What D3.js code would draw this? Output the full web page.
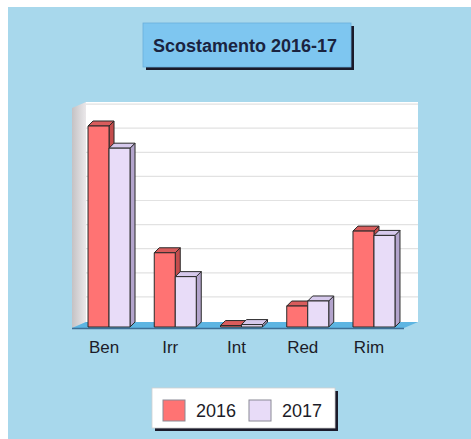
<!DOCTYPE html>
<html><head><meta charset="utf-8">
<script src="https://cdn.jsdelivr.net/npm/d3@7"></script>
<style>body{margin:0;background:#fff}svg{display:block}</style>
</head><body>
<script>
const categories = ["Ben", "Irr", "Int", "Red", "Rim"];
const seriesNames = ["2016", "2017"];
const values2016 = [83.4, 30.8, 0.6, 8.7, 39.8];
const values2017 = [74.2, 20.9, 1.0, 10.8, 38.0];
const gridTicks = [0, 10, 20, 30, 40, 50, 60, 70, 80, 90];
const titleText = "Scostamento 2016-17";

const W = 471, H = 439;
const svg = d3.select("body").append("svg").attr("width", W).attr("height", H);
svg.append("rect").attr("x", 0).attr("y", 0).attr("width", W).attr("height", H).attr("fill", "#ffffff");
svg.append("rect").attr("x", 8).attr("y", 7).attr("width", W - 8).attr("height", H - 7).attr("fill", "#a8d8ec");

const defs = svg.append("defs");
const lg = defs.append("linearGradient").attr("id", "lw").attr("x1", 0).attr("x2", 1).attr("y1", 0).attr("y2", 0);
lg.append("stop").attr("offset", "0%").attr("stop-color", "#c4c2c4");
lg.append("stop").attr("offset", "100%").attr("stop-color", "#ebe8ea");

// geometry
const dX = 14, dY = -6;            // wall depth
const bX = 5, bY = -5;             // bar depth
const frontBase = 327;
const yBar = d3.scaleLinear().domain([0, 90]).range([frontBase, frontBase - 9 * 24.1]);
const yWall = d3.scaleLinear().domain([0, 90]).range([321, 321 - 9 * 24.1]);
const x0 = d3.scaleBand().domain(categories).range([75.9, 407.1]).paddingInner(0);
const pairW = 42;
const x1 = d3.scaleBand().domain(seriesNames).range([0, pairW]);

const wallL = 86, wallR = 418, wallTop = 102, wallBot = 322;
svg.append("rect").attr("x", wallL).attr("y", wallTop).attr("width", wallR - wallL).attr("height", wallBot - wallTop).attr("fill", "#ffffff");
svg.append("polygon").attr("points", [[wallL - dX, wallTop - dY], [wallL, wallTop], [wallL, wallBot], [wallL - dX, wallBot - dY]].join(" "))
  .attr("fill", "url(#lw)");
svg.append("g").selectAll("line").data(gridTicks.slice(1)).join("line")
  .attr("x1", wallL).attr("x2", wallR)
  .attr("y1", d => yWall(d)).attr("y2", d => yWall(d))
  .attr("stroke", "#e2e2e2").attr("stroke-width", 1.2);
svg.append("polygon").attr("points", [[wallL - dX, wallBot - dY], [wallL, wallBot], [wallR, wallBot], [wallR - dX, wallBot - dY]].join(" "))
  .attr("fill", "#5db5e2");
svg.append("line").attr("x1", wallL - dX).attr("x2", wallR - dX).attr("y1", wallBot - dY + 0.5).attr("y2", wallBot - dY + 0.5)
  .attr("stroke", "#3d6f96").attr("stroke-width", 1.4);

const colors = {
  "2016": {front: "#ff7373", top: "#d95c5c", side: "#c44c4c"},
  "2017": {front: "#e8dcf8", top: "#d6c9ec", side: "#b3a4cc"}
};
const data = [];
categories.forEach((c, i) => {
  data.push({cat: c, s: "2016", v: values2016[i]});
  data.push({cat: c, s: "2017", v: values2017[i]});
});
const barW = x1.bandwidth();
const off = (x0.bandwidth() - pairW) / 2;
const bars = svg.append("g").selectAll("g").data(data).join("g");
bars.each(function(d) {
  const g = d3.select(this);
  const xl = x0(d.cat) + off + x1(d.s), xr = xl + barW;
  const yt = yBar(d.v), yb = yBar(0);
  const c = colors[d.s];
  const st = {stroke: "#2a2a2a", "stroke-width": 1, "stroke-linejoin": "round"};
  const side = g.append("polygon").attr("points", [[xr, yb], [xr + bX, yb + bY], [xr + bX, yt + bY], [xr, yt]].join(" ")).attr("fill", c.side);
  const top = g.append("polygon").attr("points", [[xl, yt], [xl + bX, yt + bY], [xr + bX, yt + bY], [xr, yt]].join(" ")).attr("fill", c.top);
  const front = g.append("rect").attr("x", xl).attr("y", yt).attr("width", barW).attr("height", yb - yt).attr("fill", c.front);
  [side, top, front].forEach(e => Object.entries(st).forEach(([k, v]) => e.attr(k, v)));
});

svg.append("g").selectAll("text").data(categories).join("text")
  .attr("x", d => x0(d) + x0.bandwidth() / 2 - 5)
  .attr("y", 353)
  .attr("text-anchor", "middle")
  .attr("font-family", "Liberation Sans, Arial, sans-serif")
  .attr("font-size", 17)
  .attr("fill", "#1c1c28")
  .text(d => d);

const tb = {x: 143, y: 23, w: 208, h: 44};
svg.append("rect").attr("x", tb.x + 3).attr("y", tb.y + 3).attr("width", tb.w).attr("height", tb.h).attr("fill", "#1a1a2a");
svg.append("rect").attr("x", tb.x).attr("y", tb.y).attr("width", tb.w).attr("height", tb.h).attr("fill", "#7ec6f0").attr("stroke", "#6aaedb").attr("stroke-width", 0.8);
svg.append("text").attr("x", tb.x + tb.w / 2 - 2).attr("y", tb.y + 29).attr("text-anchor", "middle")
  .attr("font-family", "Liberation Sans, Arial, sans-serif").attr("font-weight", "bold").attr("font-size", 18)
  .attr("fill", "#1a2340").text(titleText);

const lb = {x: 152, y: 388, w: 183, h: 40};
svg.append("rect").attr("x", lb.x + 3).attr("y", lb.y + 3).attr("width", lb.w).attr("height", lb.h).attr("fill", "#1a1a2a");
svg.append("rect").attr("x", lb.x).attr("y", lb.y).attr("width", lb.w).attr("height", lb.h).attr("fill", "#ffffff").attr("stroke", "#cfcfcf").attr("stroke-width", 0.8);
const legX = [163, 249];
const li = svg.append("g").selectAll("g").data(seriesNames).join("g");
li.append("rect").attr("x", (d, i) => legX[i]).attr("y", 400).attr("width", 22).attr("height", 21)
  .attr("fill", d => colors[d].front).attr("stroke", "#8a8a95").attr("stroke-width", 1);
li.append("text").attr("x", (d, i) => legX[i] + 33).attr("y", 417)
  .attr("font-family", "Liberation Sans, Arial, sans-serif").attr("font-size", 18).attr("fill", "#1c1c28").text(d => d);
</script>
</body></html>
